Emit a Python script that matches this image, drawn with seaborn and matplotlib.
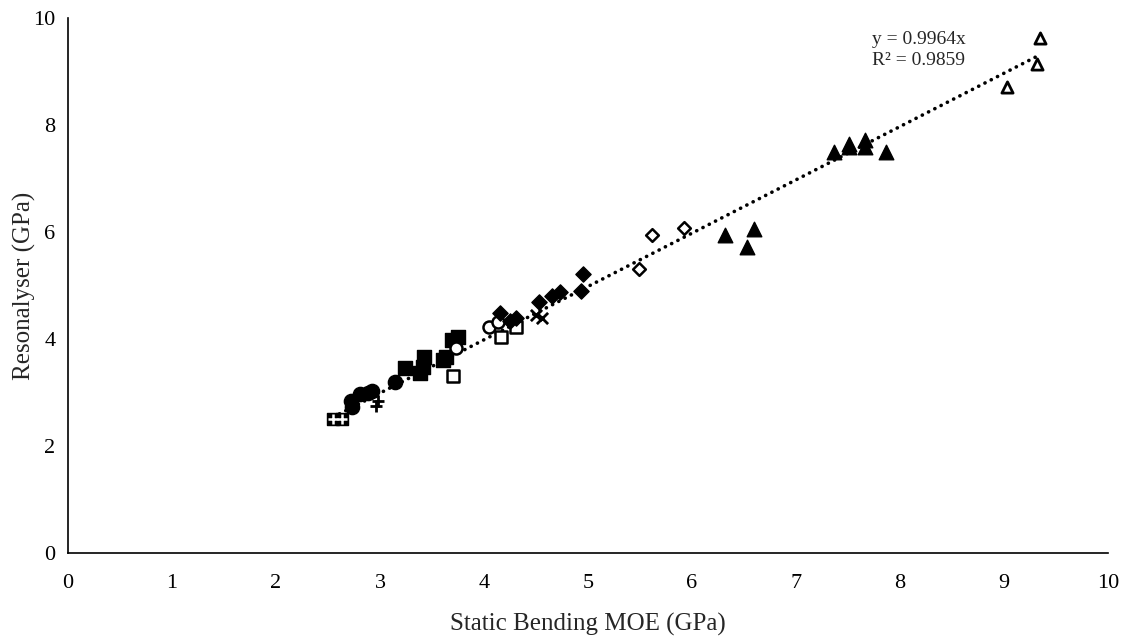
import numpy as np
import pandas as pd
import matplotlib
matplotlib.use("Agg")
import matplotlib.pyplot as plt
import seaborn as sns

sns.set_theme(style="white")
plt.rcParams["font.family"] = ["Liberation Serif", "DejaVu Serif"]

# Static bending MOE (x) vs Resonalyser MOE (y), GPa, per sample group
crossed_sq_x = [2.55, 2.63]
crossed_sq_y = [2.50, 2.50]

plus_x = [2.98, 2.96]
plus_y = [2.85, 2.74]

circle_x = [2.72, 2.73, 2.81, 2.88, 2.92, 3.14]
circle_y = [2.85, 2.73, 2.98, 3.00, 3.03, 3.19]

square_x = [3.24, 3.42, 3.41, 3.38, 3.61, 3.69, 3.75, 3.63]
square_y = [3.45, 3.66, 3.47, 3.36, 3.60, 3.98, 4.03, 3.67]

open_sq_x = [3.70, 4.16, 4.31]
open_sq_y = [3.31, 4.04, 4.22]

open_circle_x = [3.73, 4.05, 4.13]
open_circle_y = [3.83, 4.22, 4.32]

diamond_x = [4.15, 4.25, 4.31, 4.53, 4.65, 4.73, 4.93, 4.95]
diamond_y = [4.49, 4.33, 4.40, 4.70, 4.80, 4.87, 4.90, 5.22]

cross_x = [4.50, 4.56]
cross_y = [4.45, 4.40]

open_diamond_x = [5.49, 5.62, 5.92]
open_diamond_y = [5.31, 5.94, 6.07]

triangle_x = [6.32, 6.53, 6.60, 7.37, 7.51, 7.51, 7.66, 7.66, 7.87]
triangle_y = [5.94, 5.72, 6.06, 7.50, 7.64, 7.58, 7.72, 7.59, 7.50]

open_tri_x = [9.03, 9.32, 9.35]
open_tri_y = [8.71, 9.14, 9.63]

slope = 0.9964
r_squared = 0.9859

x_ticks = [0, 1, 2, 3, 4, 5, 6, 7, 8, 9, 10]
y_ticks = [0, 2, 4, 6, 8, 10]

fig = plt.figure(figsize=(11.26, 6.36), dpi=100)
ax = fig.add_axes([0.0604, 0.1305, 0.9236, 0.8412])

def draw(xs, ys, marker, size, face, edge, lw, zorder=3):
    df = pd.DataFrame({"x": xs, "y": ys})
    sns.scatterplot(data=df, x="x", y="y", ax=ax, marker=marker, s=size,
                    facecolor=face, edgecolor=edge, linewidth=lw,
                    zorder=zorder, legend=False)

# trend line through the origin
all_x = np.concatenate([crossed_sq_x, plus_x, circle_x, square_x, open_sq_x,
                        open_circle_x, diamond_x, cross_x, open_diamond_x,
                        triangle_x, open_tri_x])
fit_x = np.array([all_x.min(), all_x.max() - 0.05])
fit = pd.DataFrame({"x": fit_x, "y": slope * fit_x})
sns.lineplot(data=fit, x="x", y="y", ax=ax, color="black", lw=2.6,
             linestyle=(0, (0.05, 1.9)), dash_capstyle="round", zorder=2)

draw(crossed_sq_x, crossed_sq_y, "s", 75, "black", "black", 1)
draw(crossed_sq_x, crossed_sq_y, "+", 45, "white", "white", 1.8, zorder=4)
draw(plus_x, plus_y, "+", 75, "black", "black", 2.0)
draw(circle_x, circle_y, "o", 105, "black", "black", 1)
draw(square_x, square_y, "s", 90, "black", "black", 1)
draw(open_sq_x, open_sq_y, "s", 75, "white", "black", 1.8)
draw(open_circle_x, open_circle_y, "o", 75, "white", "black", 1.8)
draw(diamond_x, diamond_y, "D", 60, "black", "black", 1)
draw(cross_x, cross_y, "x", 65, "black", "black", 2.0)
draw(open_diamond_x, open_diamond_y, "D", 42, "white", "black", 1.8)
draw(triangle_x, triangle_y, "^", 110, "black", "black", 1)
draw(open_tri_x, open_tri_y, "^", 65, "white", "black", 2.0)

ax.set_xlim(0, 10)
ax.set_ylim(0, 10)
ax.set_xticks(x_ticks)
ax.set_yticks(y_ticks)
ax.set_xticklabels([str(t) for t in x_ticks])
ax.set_yticklabels([str(t) for t in y_ticks])
ax.tick_params(direction="in", length=6, width=1, colors="black",
               labelsize=16)
ax.tick_params(axis="x", pad=15)
ax.tick_params(axis="y", pad=9)
for side in ("top", "right"):
    ax.spines[side].set_visible(False)
for side in ("left", "bottom"):
    ax.spines[side].set_color("black")
    ax.spines[side].set_linewidth(1.2)

ax.set_xlabel("Static Bending MOE (GPa)", fontsize=18)
ax.set_ylabel("Resonalyser (GPa)", fontsize=18)
ax.xaxis.set_label_coords(0.5, -0.112)
ax.yaxis.set_label_coords(-0.031, 0.5)

ax.text(7.73, 9.4, f"y = {slope}x\nR² = {r_squared}", fontsize=14,
        va="center", ha="left", linespacing=1.3)

fig.savefig("out.png", dpi=100)
